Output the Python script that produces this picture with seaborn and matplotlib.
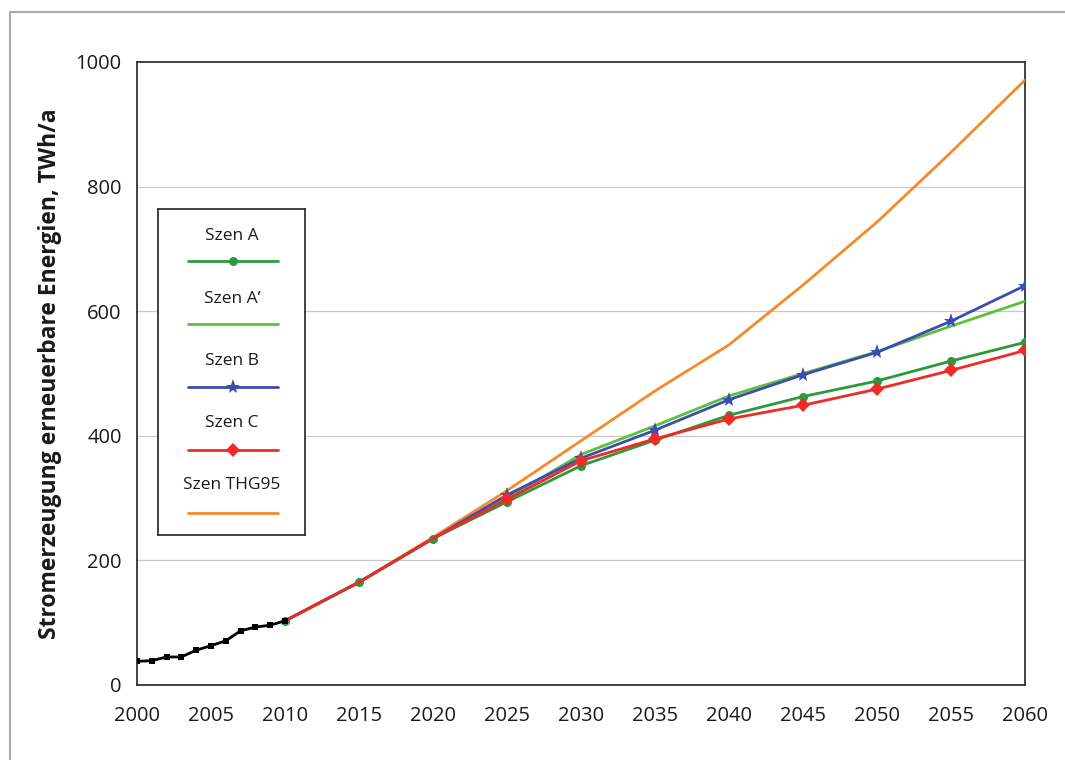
import numpy as np
import pandas as pd
import matplotlib
matplotlib.use("Agg")
import matplotlib.pyplot as plt
from matplotlib.patches import Rectangle
from matplotlib.lines import Line2D
from matplotlib.ticker import MultipleLocator
from matplotlib import font_manager
import seaborn as sns

# ---- data ----
hist_years = [2000, 2001, 2002, 2003, 2004, 2005, 2006, 2007, 2008, 2009, 2010]
hist_values = [38, 39, 45, 45, 56, 63, 71, 87, 93, 96, 103]

scen_years = [2010, 2015, 2020, 2025, 2030, 2035, 2040, 2045, 2050, 2055, 2060]
szen_a = [103, 165, 235, 294, 352, 393, 433, 463, 488, 520, 550]
szen_a2 = [103, 165, 235, 300, 370, 416, 464, 500, 535, 576, 616]
szen_b = [103, 165, 235, 305, 364, 409, 458, 498, 534, 584, 641]
szen_c = [103, 165, 235, 298, 360, 395, 427, 449, 475, 505, 537]
szen_thg95 = [103, 165, 237, 312, 392, 472, 546, 642, 743, 855, 971]

series_names = ["Szen A", "Szen A\u2019", "Szen B", "Szen C", "Szen THG95"]
series_values = [szen_a, szen_a2, szen_b, szen_c, szen_thg95]
colors = ["#2b9a3c", "#5cc03c", "#3b4db0", "#ee2b24", "#f5892c"]
markers = ["o", None, "*", "D", None]
msizes = [6.5, 0, 11, 7, 0]
mark_from = [0, None, 3, 3, None]

y_ticks = [0, 200, 400, 600, 800, 1000]
x_ticks = list(range(2000, 2061, 5))

sns.set_style("white")
plt.rcParams["font.family"] = ["Open Sans", "DejaVu Sans"]


def pick_font(cands):
    for c in cands:
        try:
            font_manager.findfont(c, fallback_to_default=False)
            return c
        except Exception:
            pass
    return "DejaVu Sans"


tick_font = pick_font(["Liberation Sans Narrow", "Open Sans"])

fig = plt.figure(figsize=(10.65, 7.6), dpi=100)
ax = fig.add_axes([137/1065, 1-685/760, 888/1065, 623/760])

# outer frame of the figure
fig.patches.append(Rectangle((10/1065, -0.2), 1.5, 1.2 - 12/760,
                             transform=fig.transFigure, fill=False,
                             edgecolor="#aaaaaa", lw=1.5, clip_on=False))

df_hist = pd.DataFrame({"year": hist_years, "value": hist_values})
sns.lineplot(data=df_hist, x="year", y="value", ax=ax, color="black",
             lw=2.0, marker="s", markersize=4.5, markeredgewidth=0, zorder=6)

order = [4, 0, 1, 2, 3]
for i in order:
    df = pd.DataFrame({"year": scen_years, "value": series_values[i]})
    kw = {}
    if markers[i] is not None:
        kw = dict(marker=markers[i], markersize=msizes[i], markeredgewidth=0,
                  markevery=list(range(mark_from[i], len(scen_years))))
    sns.lineplot(data=df, x="year", y="value", ax=ax, color=colors[i],
                 lw=2.0, zorder=3 + (i != 4), **kw)

ax.set_xlim(2000, 2060)
ax.set_ylim(0, 1000)
ax.set_xticks(x_ticks)
ax.set_yticks(y_ticks)
ax.xaxis.set_minor_locator(MultipleLocator(1))
ax.yaxis.set_minor_locator(MultipleLocator(50))
for yv in y_ticks[1:-1]:
    ax.axhline(yv, color="#c8c8c8", lw=0.9, zorder=1)

ax.tick_params(axis="both", which="major", direction="in", length=7,
               color="#bbbbbb", width=0.8, labelsize=14.5,
               labelcolor="#1a1a1a", labelfontfamily=tick_font)
ax.tick_params(axis="x", which="major", pad=15)
ax.tick_params(axis="y", which="major", pad=11)
ax.tick_params(axis="both", which="minor", direction="in", length=4,
               color="#cccccc", width=0.8)

for sp in ax.spines.values():
    sp.set_color("#333333")
    sp.set_linewidth(1.3)

ax.set_xlabel("")
ax.set_ylabel("Stromerzeugung erneuerbare Energien, TWh/a",
              fontsize=16.5, fontweight="bold", color="#1a1a1a", labelpad=10)

# ---- legend box (manual) ----
lax = fig.add_axes([158/1065, 1-535/760, 147/1065, 326/760])
lax.set_xlim(0, 147)
lax.set_ylim(535, 209)
lax.set_xticks([])
lax.set_yticks([])
for sp in lax.spines.values():
    sp.set_color("#333333")
    sp.set_linewidth(1.3)
lax.set_facecolor("white")
text_y = [236, 299, 361, 423, 485]
line_y = [261, 324, 387, 450, 513]
for i in range(5):
    lax.text(74, text_y[i], series_names[i], ha="center", va="center",
             fontsize=12.5, color="#1a1a1a")
    h = Line2D([30, 120], [line_y[i], line_y[i]], color=colors[i], lw=2.0)
    lax.add_line(h)
    if markers[i] is not None:
        lax.plot([75], [line_y[i]], marker=markers[i], markersize=msizes[i],
                 color=colors[i], markeredgewidth=0)

fig.savefig("out.png", dpi=100)
